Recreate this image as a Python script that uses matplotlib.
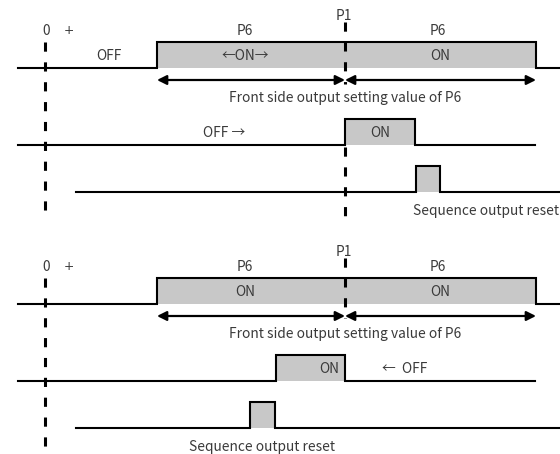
import matplotlib.pyplot as plt

plt.rcParams['font.family'] = ['Noto Sans CJK JP', 'DejaVu Sans']

# ---- time positions (pixels along the chart)
zero_x = 45
p1_x = 345
p6_start = 157
p6_end = 536

# ---- waveforms: transition points and on/off state of each segment
top_w1_x = [18, 157, 536, 560]
top_w1_s = [0, 1, 0]
top_w2_x = [18, 345, 415, 535]
top_w2_s = [0, 1, 0]
top_w3_x = [76, 416, 440, 560]
top_w3_s = [0, 1, 0]

bot_w1_x = [18, 157, 536, 560]
bot_w1_s = [0, 1, 0]
bot_w2_x = [18, 276, 345, 535]
bot_w2_s = [0, 1, 0]
bot_w3_x = [76, 250, 275, 560]
bot_w3_s = [0, 1, 0]

fig = plt.figure(figsize=(5.6, 4.54), dpi=100)
ax = fig.add_axes([0, 0, 1, 1])
ax.set_xlim(0, 560)
ax.set_ylim(454, 0)
ax.axis("off")

gray = "#c8c8c8"
txt = "#3a3a3a"
fs = 9.9


def wave(xs, st, base, h=26):
    px, py = [], []
    for i in range(len(st)):
        y = base - h * st[i]
        px += [xs[i], xs[i + 1]]
        py += [y, y]
        if st[i]:
            ax.fill_between([xs[i], xs[i + 1]], base, y, color=gray, lw=0)
    ax.plot(px, py, color="black", lw=1.5, solid_joinstyle="miter")


def darrow(x0, x1, y):
    ax.annotate("", xy=(x1, y), xytext=(x0, y),
                arrowprops=dict(arrowstyle="<|-|>", color="black", lw=1.6,
                                mutation_scale=14, shrinkA=0, shrinkB=0))


def block(dy, w1, w2, w3, labels, p1_segs):
    # dashed time marks
    ax.plot([zero_x, zero_x], [dy + 42, dy + 212], color="black", lw=2.2,
            dashes=(3, 3.5))
    for a, b in p1_segs:
        ax.plot([p1_x, p1_x], [dy + a, dy + b],
                color="black", lw=2.2, dashes=(3, 3.5))
    ax.text(zero_x + 1, dy + 31, "0", ha="center", va="center", fontsize=fs, color=txt)
    ax.text(69, dy + 31, "+", ha="center", va="center", fontsize=fs - 1, color=txt,
            family="DejaVu Sans")
    ax.text(p1_x - 1, dy + 16, "P1", ha="center", va="center", fontsize=fs, color=txt)
    ax.text(245, dy + 31, "P6", ha="center", va="center", fontsize=fs, color=txt)
    ax.text(438, dy + 31, "P6", ha="center", va="center", fontsize=fs, color=txt)

    wave(w1[0], w1[1], dy + 68)
    wave(w2[0], w2[1], dy + 145)
    wave(w3[0], w3[1], dy + 192)

    darrow(p6_start, p1_x, dy + 80)
    darrow(p1_x, p6_end, dy + 80)
    ax.text(p1_x, dy + 98, "Front side output setting value of P6", ha="center",
            va="center", fontsize=fs, color=txt)
    for x, y, s, ha in labels:
        ax.text(x, y, s, ha=ha, va="center", fontsize=fs, color=txt)


block(0, (top_w1_x, top_w1_s), (top_w2_x, top_w2_s), (top_w3_x, top_w3_s),
      [(109, 56, "OFF", "center"), (245, 56, "←ON→", "center"),
       (440, 56, "ON", "center"), (224, 133, "OFF →", "center"),
       (380, 133, "ON", "center"), (413, 211, "Sequence output reset", "left")],
      [(22, 84), (147, 219)])

block(236, (bot_w1_x, bot_w1_s), (bot_w2_x, bot_w2_s), (bot_w3_x, bot_w3_s),
      [(245, 292, "ON", "center"), (440, 292, "ON", "center"),
       (329, 369, "ON", "center"), (382, 369, "←  OFF", "left"),
       (262, 447, "Sequence output reset", "center")],
      [(22, 82)])

fig.savefig("out.png", dpi=100)
